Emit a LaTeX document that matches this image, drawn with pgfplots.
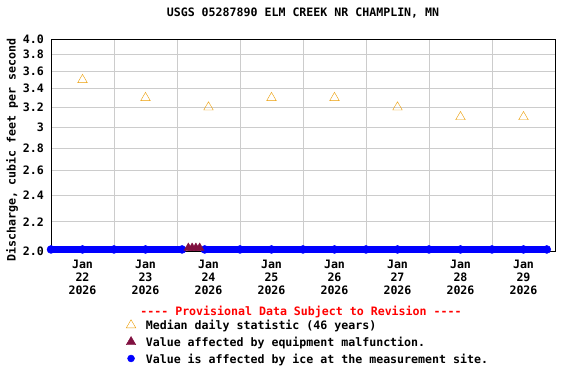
\documentclass[border=0pt]{standalone}
\usepackage{fontspec}
\setmonofont{DejaVu Sans Mono}
\usepackage{pgfplots}
\pgfplotsset{compat=1.18}
\definecolor{medorange}{RGB}{235,155,0}
\definecolor{malmaroon}{RGB}{128,16,64}
\definecolor{gridgray}{RGB}{204,204,204}
\newcommand{\ff}{\ttfamily\bfseries\fontsize{11.6}{13}\selectfont}
\begin{document}
\begin{tikzpicture}
\useasboundingbox (-51pt,-133pt) rectangle (525pt,251pt);
\begin{axis}[
  at={(0,0)}, anchor=south west,
  scale only axis, width=504pt, height=212pt,
  xmin=0, xmax=8, ymin=2, ymax=4, ymode=log,
  clip=false,
  axis line style={black, line width=0.8pt},
  major tick length=0pt, minor tick length=0pt,
  xtick={0.5,1.5,2.5,3.5,4.5,5.5,6.5,7.5},
  xticklabels={{Jan\\22\\2026},{Jan\\23\\2026},{Jan\\24\\2026},{Jan\\25\\2026},{Jan\\26\\2026},{Jan\\27\\2026},{Jan\\28\\2026},{Jan\\29\\2026}},
  minor xtick={1,2,3,4,5,6,7},
  xminorgrids=true, xmajorgrids=false, ymajorgrids=true,
  grid style={draw=gridgray, line width=0.8pt},
  minor grid style={draw=gridgray, line width=0.8pt},
  ytick={2,2.2,2.4,2.6,2.8,3,3.2,3.4,3.6,3.8,4},
  yticklabels={2.0,2.2,2.4,2.6,2.8,3,3.2,3.4,3.6,3.8,4.0},
  xticklabel style={align=center, font=\ff, inner sep=0pt, anchor=north, yshift=-9pt},
  yticklabel style={font=\ff, inner sep=0pt, anchor=east, xshift=-7pt},
  title={USGS 05287890 ELM CREEK NR CHAMPLIN, MN},
  title style={at={(0.5,1)}, anchor=base, yshift=16pt, font=\ff},
  ylabel={Discharge, cubic feet per second},
  ylabel style={at={(axis description cs:-0.0774,0.476)}, anchor=center, font=\ff},
  legend image code/.code={\draw[#1] plot coordinates {(0pt,1.8pt)};},
  legend cell align=left,
  legend style={at={(rel axis cs:0.149,-0.323)}, anchor=north west, draw=none, fill=none,
    inner sep=0pt, font=\ff, row sep=2.5pt,
    nodes={inner sep=1pt, text height=9pt, text depth=3pt},
    /tikz/every odd column/.append style={column sep=9pt}},
]
% ice-affected values (blue)
\addplot[forget plot, blue, line width=7.5pt, mark=*, mark size=4pt, mark options={fill=blue, draw=blue, line width=0.4pt}]
  coordinates {(0,2.01) (0.5,2.01) (1,2.01) (1.5,2.01) (2.08,2.01)};
\addplot[forget plot, blue, line width=7.5pt, mark=*, mark size=4pt, mark options={fill=blue, draw=blue, line width=0.4pt}]
  coordinates {(2.44,2.01) (3,2.01) (3.5,2.01) (4,2.01) (4.5,2.01) (5,2.01) (5.5,2.01) (6,2.01) (6.5,2.01) (7,2.01) (7.5,2.01) (7.87,2.01)};
% equipment malfunction (maroon)
\addplot[forget plot, only marks, mark=triangle*, mark size=5pt, color=malmaroon]
  coordinates {(2.18,2.02) (2.24,2.02) (2.30,2.02) (2.36,2.02)};
% median daily statistic
\addplot[forget plot, only marks, mark=triangle, mark size=5.5pt, color=medorange]
  coordinates {(0.5,3.5) (1.5,3.3) (2.5,3.2) (3.5,3.3) (4.5,3.3) (5.5,3.2) (6.5,3.1) (7.5,3.1)};
\addlegendimage{only marks, mark=triangle, mark size=5.5pt, color=medorange}
\addlegendentry{Median daily statistic (46 years)}
\addlegendimage{only marks, mark=triangle*, mark size=5.5pt, color=malmaroon}
\addlegendentry{Value affected by equipment malfunction.}
\addlegendimage{only marks, mark=*, mark size=3.5pt, color=blue}
\addlegendentry{Value is affected by ice at the measurement site.}
\node[font=\ff, text=red, anchor=base, inner sep=0pt] at (rel axis cs:0.496,0) [yshift=-64pt] {---- Provisional Data Subject to Revision ----};
\end{axis}
\end{tikzpicture}
\end{document}
